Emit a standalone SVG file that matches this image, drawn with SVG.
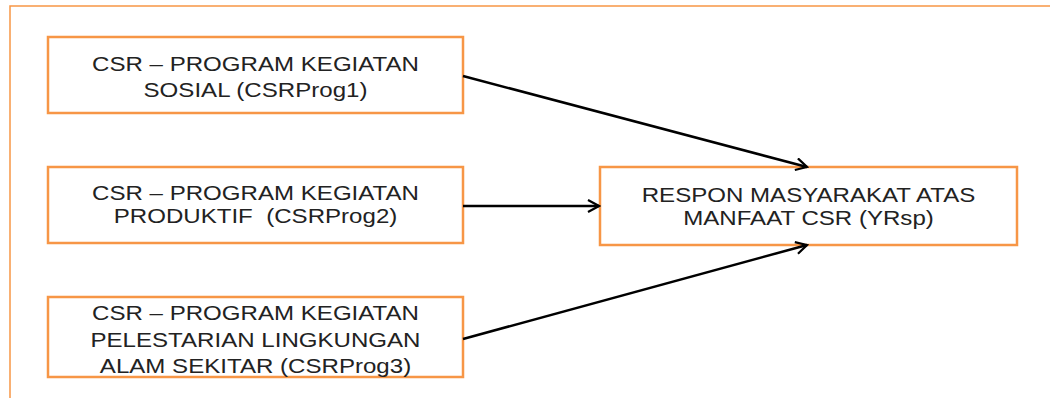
<svg xmlns="http://www.w3.org/2000/svg" width="1050" height="398" viewBox="0 0 1050 398">
<style>
.box{fill:#fff;stroke:#F79646;stroke-width:2.5}
.frame{fill:none;stroke:#F79646;stroke-width:1.5}
.t{font-family:"Liberation Sans",Arial,sans-serif;font-size:19.5px;fill:#222;text-anchor:middle}
.c{fill:none;stroke:#000;stroke-width:2.5}
</style>
<defs>
<marker id="ah" markerWidth="14" markerHeight="14" refX="12" refY="7" orient="auto" markerUnits="userSpaceOnUse">
<path d="M1,1 L12,7 L1,13" fill="none" stroke="#000" stroke-width="2.2"/>
</marker>
</defs>
<rect width="1050" height="398" fill="#fff"/>
<path class="frame" d="M10,398 V6 H1050"/>
<g id="n1"><rect class="box" x="48" y="37" width="415" height="76"/>
<text class="t" transform="translate(255.5,71) scale(1.235,1)">CSR – PROGRAM KEGIATAN</text>
<text class="t" transform="translate(255.5,97) scale(1.235,1)">SOSIAL (CSRProg1)</text></g>
<g id="n2"><rect class="box" x="48" y="167" width="415" height="76"/>
<text class="t" transform="translate(255.5,200) scale(1.235,1)">CSR – PROGRAM KEGIATAN</text>
<text class="t" transform="translate(255.5,223) scale(1.235,1)" xml:space="preserve">PRODUKTIF  (CSRProg2)</text></g>
<g id="n3"><rect class="box" x="48" y="297" width="415" height="80"/>
<text class="t" transform="translate(255.5,320) scale(1.235,1)">CSR – PROGRAM KEGIATAN</text>
<text class="t" transform="translate(255.5,347) scale(1.235,1)">PELESTARIAN LINGKUNGAN</text>
<text class="t" transform="translate(255.5,373) scale(1.235,1)">ALAM SEKITAR (CSRProg3)</text></g>
<g id="n4"><rect class="box" x="600" y="167" width="417" height="78"/>
<text class="t" transform="translate(808.5,202) scale(1.235,1)">RESPON MASYARAKAT ATAS</text>
<text class="t" transform="translate(808.5,225) scale(1.235,1)">MANFAAT CSR (YRsp)</text></g>
<g id="connectors">
<line class="c" x1="463" y1="76" x2="807" y2="167" marker-end="url(#ah)"/>
<line class="c" x1="463" y1="206" x2="599" y2="206" marker-end="url(#ah)"/>
<line class="c" x1="463" y1="339" x2="807" y2="245" marker-end="url(#ah)"/>
</g>
</svg>
